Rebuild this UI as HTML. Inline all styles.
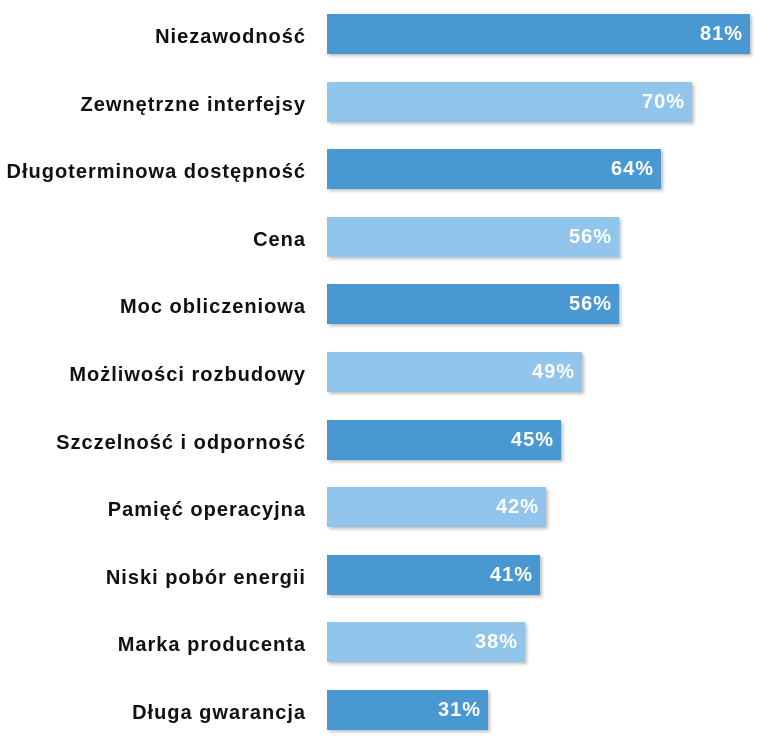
<!DOCTYPE html><html><head><style>
body{margin:0;width:763px;height:745px;background:#fff;position:relative;font-family:"Liberation Sans",sans-serif;overflow:hidden}
.l{position:absolute;right:457px;font-weight:bold;font-size:20px;letter-spacing:1px;color:#111;line-height:40px;white-space:nowrap;padding-top:3px}
.b{position:absolute;left:327px;height:40px;box-shadow:2px 2px 3px rgba(0,0,0,.25);color:#fff;font-weight:bold;font-size:20px;letter-spacing:1px;line-height:40px;text-align:right;box-sizing:border-box;padding-right:7px}
.d{background:#4a98d2}.g{background:#91c5ec}
</style></head><body>
<div class="l" style="top:14px">Niezawodność</div><div class="b d" style="top:14px;width:423px">81%</div>
<div class="l" style="top:82px">Zewnętrzne interfejsy</div><div class="b g" style="top:82px;width:365px">70%</div>
<div class="l" style="top:149px">Długoterminowa dostępność</div><div class="b d" style="top:149px;width:334px">64%</div>
<div class="l" style="top:217px">Cena</div><div class="b g" style="top:217px;width:292px">56%</div>
<div class="l" style="top:284px">Moc obliczeniowa</div><div class="b d" style="top:284px;width:292px">56%</div>
<div class="l" style="top:352px">Możliwości rozbudowy</div><div class="b g" style="top:352px;width:255px">49%</div>
<div class="l" style="top:420px">Szczelność i odporność</div><div class="b d" style="top:420px;width:234px">45%</div>
<div class="l" style="top:487px">Pamięć operacyjna</div><div class="b g" style="top:487px;width:219px">42%</div>
<div class="l" style="top:555px">Niski pobór energii</div><div class="b d" style="top:555px;width:213px">41%</div>
<div class="l" style="top:622px">Marka producenta</div><div class="b g" style="top:622px;width:198px">38%</div>
<div class="l" style="top:690px">Długa gwarancja</div><div class="b d" style="top:690px;width:161px">31%</div>
</body></html>
